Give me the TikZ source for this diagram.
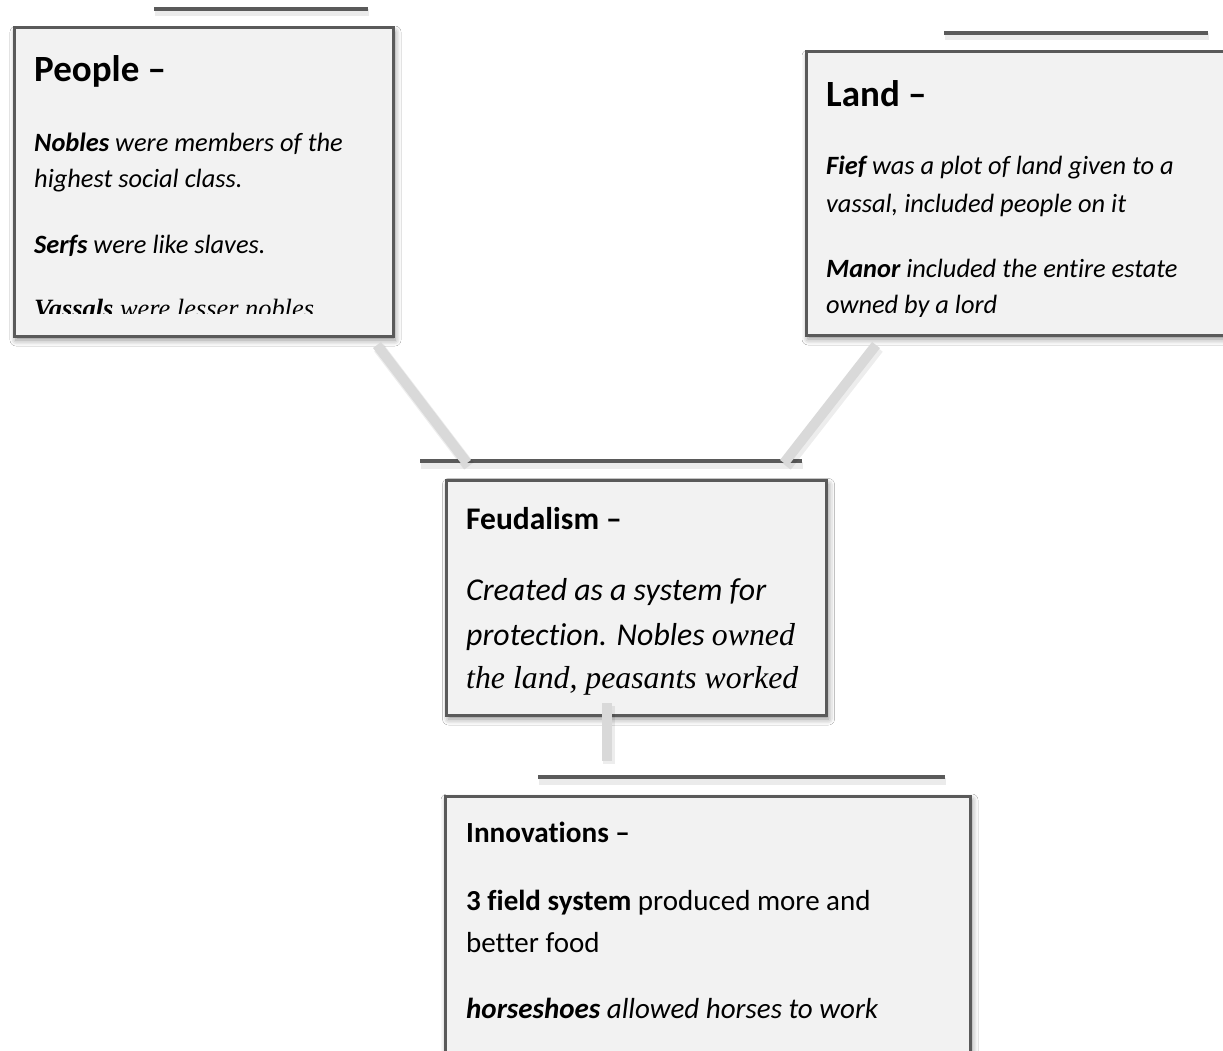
\documentclass[tikz,border=0pt]{standalone}
\usepackage{fontspec}
\setmainfont[Ligatures={TeX,NoCommon}]{Carlito}
\newfontfamily\tnr{Liberation Serif}
\usepackage{tikz}
\usetikzlibrary{shadows.blur}
\definecolor{smframe}{HTML}{5A5A5A}
\definecolor{smfill}{HTML}{F2F2F2}
\definecolor{smlink}{HTML}{D9D9D9}

\begin{document}
\begin{tikzpicture}[x=1pt, y=-1pt,
  box/.style={draw=smframe, line width=3pt, fill=smfill, anchor=north west,
    inner sep=0pt, blur shadow={shadow xshift=2pt, shadow yshift=-4pt,
    shadow blur radius=6pt, shadow opacity=45}},
  bar/.style={draw=smframe, line width=4pt},
  barshade/.style={draw=black, opacity=0.08, line width=7pt},
  link/.style={draw=smlink, line width=10pt},
  linkshade/.style={draw=black, opacity=0.07, line width=12pt},
  txt/.style={anchor=base west, inner sep=0pt},
  bighd/.style={txt, font=\fontsize{37}{44}\selectfont\bfseries},
  pebody/.style={txt, font=\fontsize{26.4}{31}\selectfont\itshape},
  fehd/.style={txt, font=\fontsize{31.5}{37}\selectfont\bfseries},
  febody/.style={txt, font=\fontsize{31.8}{38}\selectfont\itshape},
  inhd/.style={txt, font=\fontsize{29.2}{35}\selectfont\bfseries},
  inbody/.style={txt, font=\fontsize{29}{35}\selectfont}]
\fill[white] (0,0) rectangle (1223,1051);
\useasboundingbox (0,0) rectangle (1223,1051);
% accent bars
\draw[barshade] (155,13) -- (369,13);
\draw[bar] (154,9) -- (368,9);
\draw[barshade] (945,37) -- (1209,37);
\draw[bar] (944,33) -- (1208,33);
\draw[barshade] (421,465) -- (803,465);
\draw[bar] (420,461) -- (802,461);
\draw[barshade] (539,781) -- (946,781);
\draw[bar] (538,777) -- (945,777);
% boxes
\node[box, minimum width=379pt, minimum height=308pt] (people) at (12.5,26.5) {};
\node[box, minimum width=440pt, minimum height=283pt] (land) at (804.5,50.5) {};
\node[box, minimum width=380pt, minimum height=234.5pt] (feud) at (445,479) {};
\node[box, minimum width=525pt, minimum height=300pt] (innov) at (443.5,794.5) {};
% people
\node[bighd] (pe-h) at (34,82) {People --};
\node[pebody] (pe-1) at (34,152) {\textbf{Nobles} were members of the};
\node[pebody] (pe-2) at (34,188) {highest social class.};
\node[pebody] (pe-3) at (34,253) {\textbf{Serfs} were like slaves.};
\begin{scope}
  \clip (14,28) rectangle (390,313);
  \node[pebody] (pe-4) at (34,317) {\tnr\textbf{Vassals} were lesser nobles};
\end{scope}
% land
\node[bighd] (la-h) at (826,107) {Land --};
\node[pebody] (la-1) at (826,175) {\textbf{Fief} was a plot of land given to a};
\node[pebody] (la-2) at (826,213) {vassal, included people on it};
\node[pebody] (la-3) at (826,277) {\textbf{Manor} included the entire estate};
\begin{scope}
  \clip (806,52) rectangle (1223,316);
  \node[pebody] (la-4) at (826,313) {owned by a lord};
\end{scope}
% feudalism
\node[fehd] (fe-h) at (466,529) {Feudalism --};
\node[febody] (fe-1) at (466,600) {Created as a system for};
\node[febody] (fe-2) at (466,645) {protection. Nobles {\tnr owned}};
\node[febody] (fe-3) at (466,688) {\tnr the land, peasants worked};
% innovations
\node[inhd] (in-h) at (466,842) {Innovations --};
\node[inbody] (in-1) at (466,910) {\textbf{3 field system} produced more and};
\node[inbody] (in-2) at (466,952) {better food};
\node[inbody] (in-3) at (466,1018) {\itshape\textbf{horseshoes} allowed horses to work};
% links
\coordinate (pe-out) at (377,345);
\coordinate (fe-inl) at (467,463);
\coordinate (la-out) at (876,345);
\coordinate (fe-inr) at (784,463);
\coordinate (fe-out) at (607,703);
\coordinate (in-in) at (607,761);
\draw[linkshade] ([shift={(2,3)}]pe-out) -- ([shift={(2,3)}]fe-inl);
\draw[linkshade] ([shift={(2,3)}]la-out) -- ([shift={(2,3)}]fe-inr);
\draw[linkshade] ([shift={(2,3)}]fe-out) -- ([shift={(2,3)}]in-in);
\draw[link] (pe-out) -- (fe-inl);
\draw[link] (la-out) -- (fe-inr);
\draw[link] (fe-out) -- (in-in);
\end{tikzpicture}
\end{document}
